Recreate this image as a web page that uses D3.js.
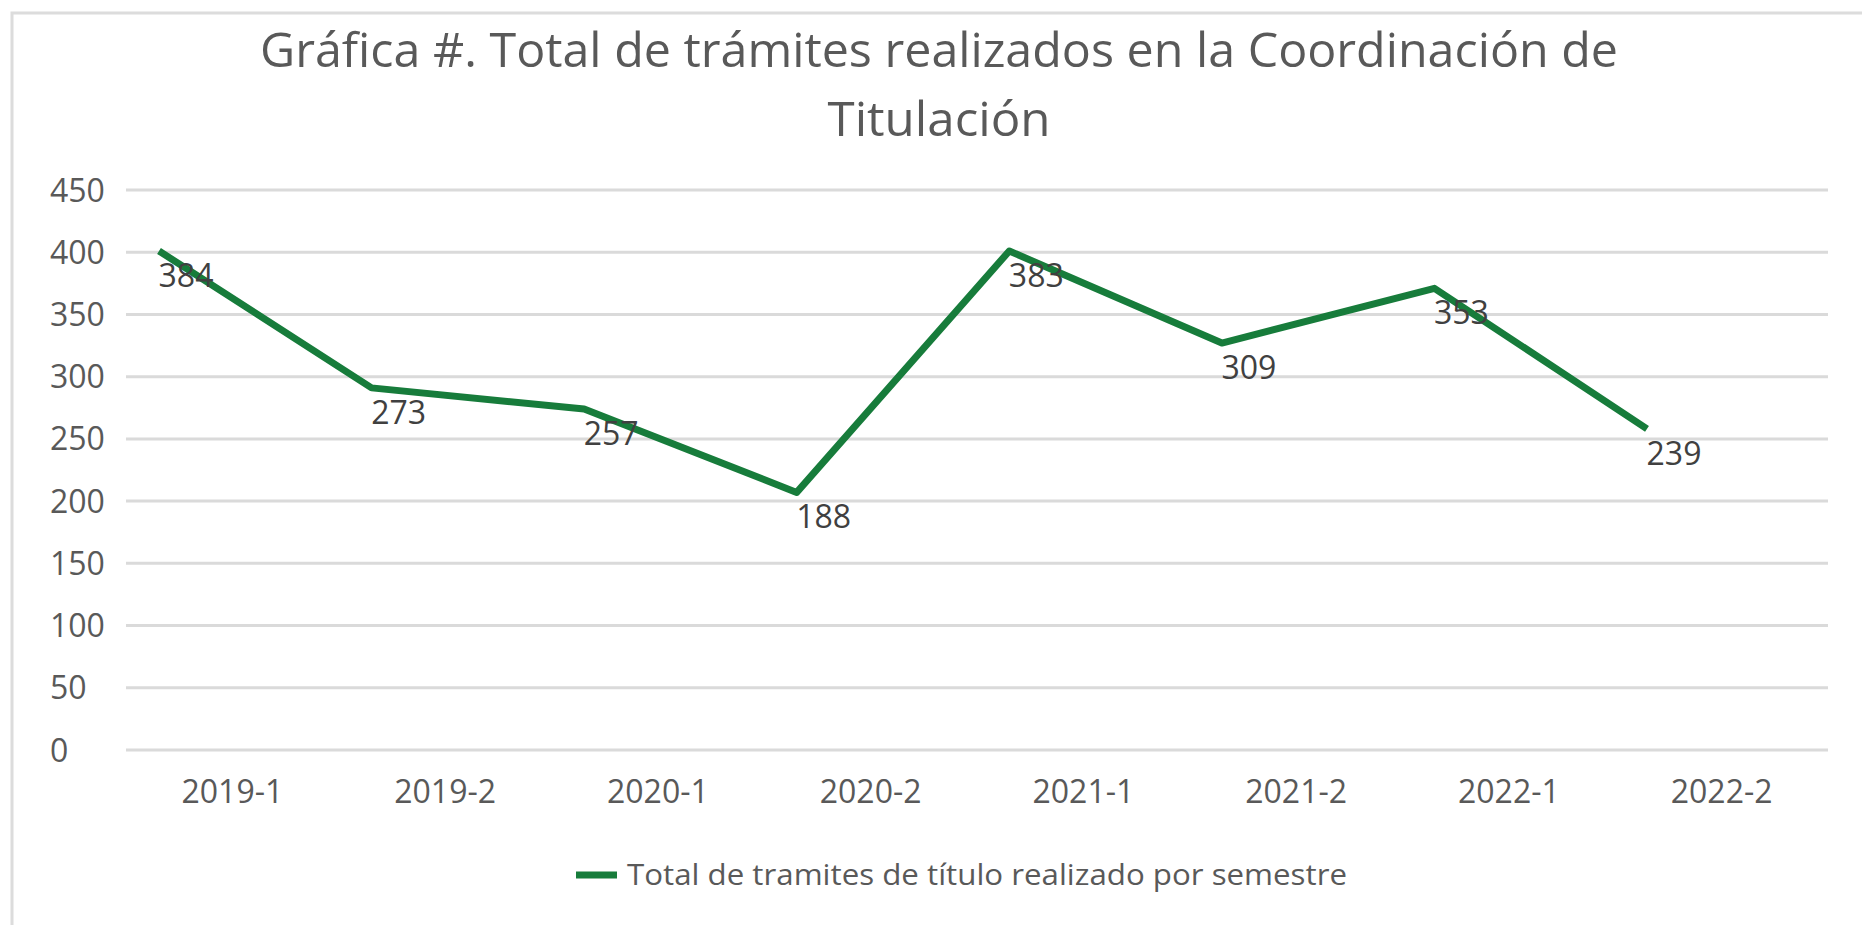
<!DOCTYPE html>
<html>
<head>
<meta charset="utf-8">
<script src="https://cdn.jsdelivr.net/npm/d3@7"></script>
<style>
  html, body { margin: 0; padding: 0; background: #ffffff; }
  svg { display: block; }
  text { font-family: "Open Sans", "Noto Sans", sans-serif; }
</style>
</head>
<body>
<svg id="chart" width="1862" height="925"></svg>
<script>
// ---- data ----
const categories = ["2019-1", "2019-2", "2020-1", "2020-2", "2021-1", "2021-2", "2022-1", "2022-2"];
// line heights as drawn against the y axis
const lineValues = [401, 291, 274, 207, 401, 327, 371, 258];
// data labels as printed next to each point
const dataLabels = ["384", "273", "257", "188", "383", "309", "353", "239"];
const yTicks = [0, 50, 100, 150, 200, 250, 300, 350, 400, 450];
const titleLines = ["Gráfica #. Total de trámites realizados en la Coordinación de", "Titulación"];
const seriesName = "Total de tramites de título realizado por semestre";

// ---- layout ----
const svg = d3.select("#chart");
const plot = { left: 126, right: 1828, top: 190, bottom: 750 };
const green = "#177c3b";
const axisGray = "#595959";

// chart border (extends past the viewport on right/bottom like the reference)
svg.append("rect")
  .attr("x", 12).attr("y", 13).attr("width", 1900).attr("height", 1000)
  .attr("fill", "#ffffff").attr("stroke", "#dcdcdc").attr("stroke-width", 3);

const y = d3.scaleLinear().domain([0, 450]).range([plot.bottom, plot.top]);
const xBand = d3.scaleBand().domain(categories).range([plot.left, plot.right]);
const xPoint = d3.scalePoint().domain(categories).range([159, 1647]);

// gridlines
svg.append("g").selectAll("line").data(yTicks).join("line")
  .attr("x1", plot.left).attr("x2", plot.right)
  .attr("y1", d => y(d)).attr("y2", d => y(d))
  .attr("stroke", "#dadada").attr("stroke-width", 3);

// y tick labels (left aligned)
svg.append("g").selectAll("text").data(yTicks).join("text")
  .attr("x", 50).attr("y", d => y(d))
  .attr("dy", "0.36em")
  .attr("font-size", 32).attr("fill", axisGray)
  .text(d => d);

// x axis labels via d3 axis
const xAxis = d3.axisBottom(xBand).tickSize(0).tickPadding(0);
const gx = svg.append("g").attr("transform", `translate(0, 780)`).call(xAxis);
gx.select(".domain").remove();
gx.selectAll("text")
  .attr("font-family", "'Open Sans', sans-serif")
  .attr("font-size", 32).attr("fill", axisGray)
  .attr("dy", "0.72em");

// line
const line = d3.line()
  .x((d, i) => xPoint(categories[i]))
  .y(d => y(d));
svg.append("path").datum(lineValues)
  .attr("d", line)
  .attr("fill", "none").attr("stroke", green)
  .attr("stroke-width", 7).attr("stroke-linejoin", "round").attr("stroke-linecap", "butt");

// data labels
svg.append("g").selectAll("text").data(lineValues).join("text")
  .attr("x", (d, i) => xPoint(categories[i]) + 27)
  .attr("y", d => y(d) + 36)
  .attr("text-anchor", "middle")
  .attr("font-size", 32).attr("fill", "#404040")
  .text((d, i) => dataLabels[i]);

// title
const titleY = [67, 136];
const titleW = [1358, 223];
svg.append("g").selectAll("text").data(titleLines).join("text")
  .attr("x", 939).attr("y", (d, i) => titleY[i])
  .attr("text-anchor", "middle")
  .attr("font-size", 48).attr("fill", axisGray)
  .attr("textLength", (d, i) => titleW[i])
  .attr("lengthAdjust", "spacingAndGlyphs")
  .text(d => d);

// legend
const lg = svg.append("g");
lg.append("line")
  .attr("x1", 576).attr("x2", 617).attr("y1", 875).attr("y2", 875)
  .attr("stroke", green).attr("stroke-width", 7);
lg.append("text")
  .attr("x", 627).attr("y", 885)
  .attr("font-size", 30).attr("fill", axisGray)
  .attr("textLength", 720).attr("lengthAdjust", "spacingAndGlyphs")
  .text(seriesName);
</script>
</body>
</html>
